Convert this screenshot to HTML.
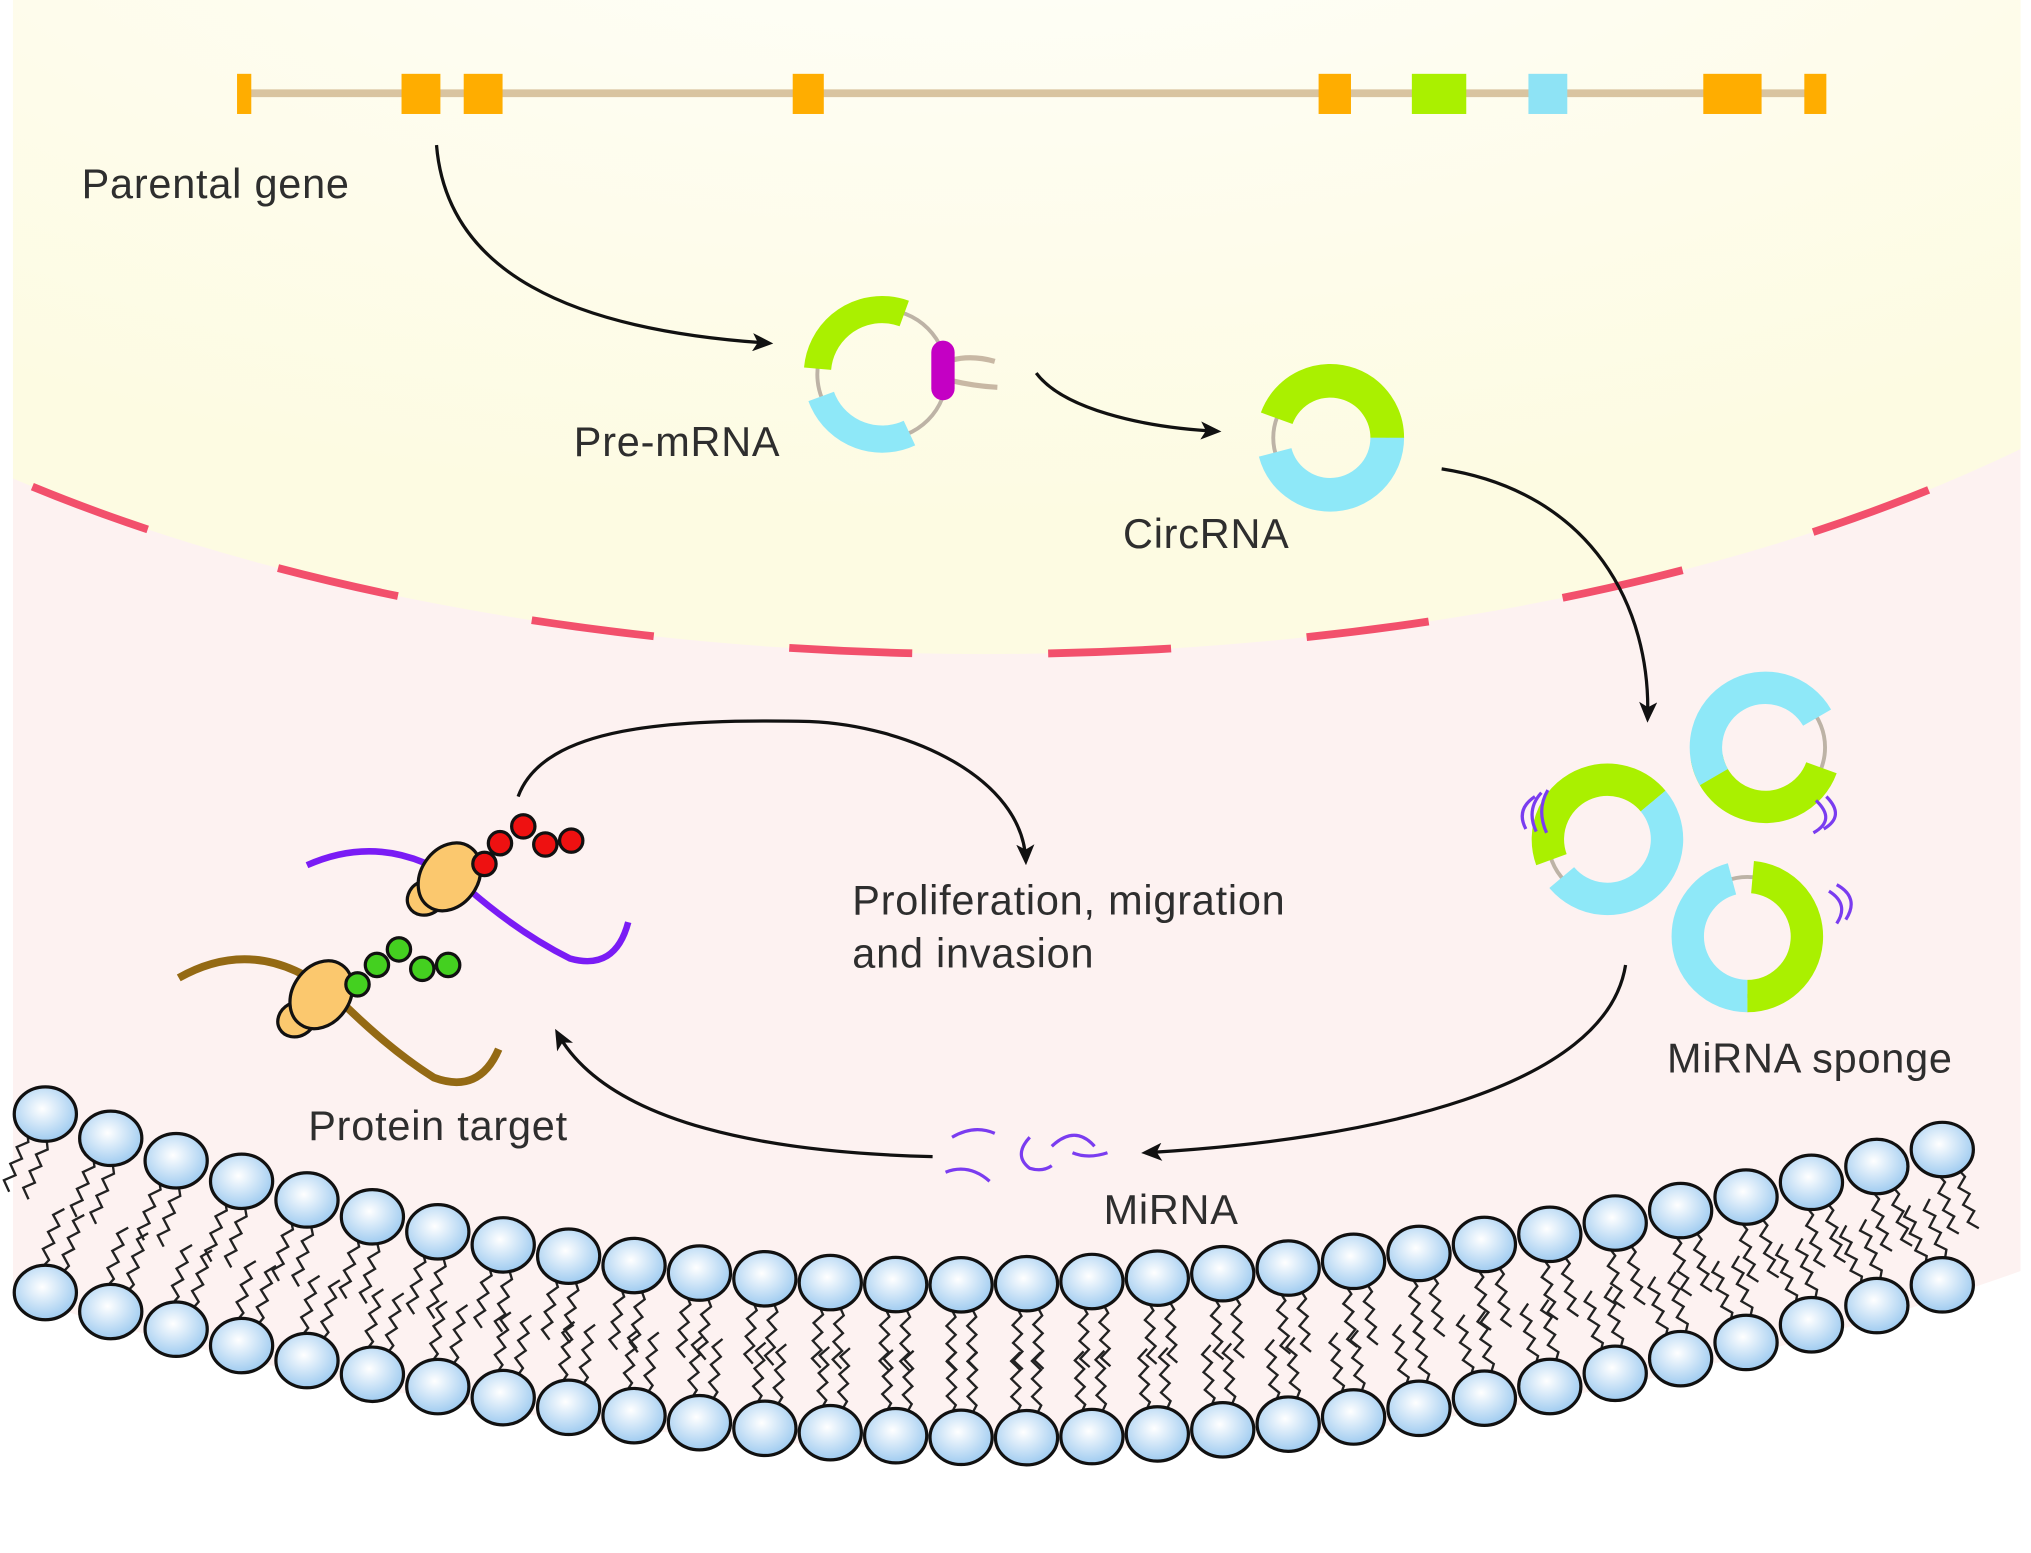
<!DOCTYPE html>
<html><head><meta charset="utf-8"><style>
html,body{margin:0;padding:0;background:#fff}
svg{display:block}
text{font-family:"Liberation Sans",sans-serif;fill:#2e2e2e;font-size:32px;letter-spacing:0.6px}
</style></head><body>
<svg id="s" width="2031" height="1553" viewBox="0 0 1568 1199" preserveAspectRatio="none" xmlns="http://www.w3.org/2000/svg">
<defs>
<radialGradient id="hg" cx="0.45" cy="0.4" r="0.6"><stop offset="0" stop-color="#ffffff"/><stop offset="1" stop-color="#9fcbf0"/></radialGradient>
<radialGradient id="nuc" cx="0.5" cy="0.3" r="0.6"><stop offset="0" stop-color="#ffffff"/><stop offset="0.5" stop-color="#fefdf0"/><stop offset="1" stop-color="#fdfbe2"/></radialGradient>
<marker id="ah" markerWidth="16" markerHeight="14" refX="13" refY="7" orient="auto" markerUnits="userSpaceOnUse"><path d="M0,0 L16,7 L0,14 L4,7 Z" fill="#111"/></marker>
</defs>
<rect x="0" y="0" width="1568" height="1199" fill="#fff"/>
<rect x="10" y="8" width="1550" height="1180" fill="#fdf2f1"/>
<path id="below" fill="#ffffff"/>
<ellipse cx="760" cy="0" rx="1100" ry="505" fill="url(#nuc)"/>
<ellipse cx="760" cy="0" rx="1100" ry="505" fill="none" stroke="#f2506c" stroke-width="6" stroke-dasharray="95 105" stroke-dashoffset="40"/>
<rect x="0" y="0" width="10" height="1199" fill="#fff"/>
<rect x="1560" y="0" width="8" height="1199" fill="#fff"/>

<line x1="188" y1="72" x2="1405" y2="72" stroke="#d9c4a0" stroke-width="6"/>
<g fill="#ffad00">
<rect x="183" y="57" width="11" height="31"/><rect x="310" y="57" width="30" height="31"/><rect x="358" y="57" width="30" height="31"/>
<rect x="612" y="57" width="24" height="31"/><rect x="1018" y="57" width="25" height="31"/>
<rect x="1315" y="57" width="45" height="31"/><rect x="1393" y="57" width="17" height="31"/></g>
<rect x="1090" y="57" width="42" height="31" fill="#aaf000"/>
<rect x="1180" y="57" width="30" height="31" fill="#8ee3f5"/>
<text x="63" y="153">Parental gene</text>

<g fill="none" stroke="#111" stroke-width="2.5" marker-end="url(#ah)">
<path d="M337,112 C345,210 440,255 594,265"/>
<path d="M800,288 C820,315 880,330 940,333"/>
<path d="M1113,362 C1230,380 1275,470 1272,555"/>
<path d="M1255,745 C1240,840 1060,880 884,890"/>
<path d="M720,893 C600,890 470,870 430,797"/>
<path d="M400,615 C420,560 520,555 625,557 C700,560 790,600 792,665"/>
</g>

<g id="rings"></g>
<g stroke="#c8b8a4" stroke-width="4" fill="none"><path d="M735,278 Q750,274 768,279"/><path d="M735,294 Q752,298 770,299"/></g>
<rect x="719" y="263" width="18" height="46" rx="9" fill="#c400c4"/>
<text x="443" y="352">Pre-mRNA</text>
<text x="867" y="423">CircRNA</text>
<text x="1287" y="828">MiRNA sponge</text>
<text x="852" y="945">MiRNA</text>
<text x="238" y="880">Protein target</text>
<text x="658" y="706">Proliferation, migration</text>
<text x="658" y="747">and invasion</text>

<g fill="none" stroke="#7a3cf0" stroke-width="2.5">
<path d="M735,878 Q752,868 768,875"/><path d="M730,905 Q748,898 764,912"/>
<path d="M795,878 Q782,892 795,902 Q805,905 812,900"/><path d="M812,885 Q830,868 845,885 M828,890 Q840,895 855,890"/>
<path d="M1185,615 Q1170,625 1178,640 M1190,612 Q1178,625 1186,642 M1195,610 Q1186,625 1194,643"/>
<path d="M1410,615 Q1425,630 1408,640 M1402,618 Q1418,633 1400,643"/>
<path d="M1418,683 Q1436,693 1425,710 M1412,688 Q1428,698 1418,713"/>
</g>

<path d="M237,668 Q300,640 360,685 Q400,720 440,740 Q475,750 485,712" fill="none" stroke="#7a1cf5" stroke-width="5"/>
<path d="M138,755 Q200,720 260,770 Q300,810 335,832 Q370,845 385,810" fill="none" stroke="#946a14" stroke-width="6"/>
<g stroke="#111" stroke-width="2.5" fill="#fbc86e">
<ellipse cx="329" cy="693" rx="15" ry="13" transform="rotate(-30 329 693)"/>
<ellipse cx="347" cy="677" rx="28" ry="22" transform="rotate(-55 347 677)"/>
<ellipse cx="229" cy="787" rx="15" ry="13" transform="rotate(-30 229 787)"/>
<ellipse cx="248" cy="768" rx="28" ry="22" transform="rotate(-55 248 768)"/>
</g>
<g stroke="#111" stroke-width="2.5" fill="#ee1111">
<circle cx="374" cy="667" r="9"/><circle cx="386" cy="651" r="9"/><circle cx="404" cy="638" r="9"/><circle cx="421" cy="652" r="9"/><circle cx="441" cy="649" r="9"/></g>
<g stroke="#111" stroke-width="2.5" fill="#44d020">
<circle cx="276" cy="760" r="9"/><circle cx="291" cy="745" r="9"/><circle cx="308" cy="733" r="9"/><circle cx="326" cy="748" r="9"/><circle cx="346" cy="745" r="9"/></g>

<g id="mem"></g>
</svg>
<script>
(function(){
var NS="http://www.w3.org/2000/svg";
function el(t,a,p){var e=document.createElementNS(NS,t);for(var k in a)e.setAttribute(k,a[k]);(p||document.getElementById('s')).appendChild(e);return e;}
var R=document.getElementById('rings');
function arc(cx,cy,r,a0,a1,col,w){var C=2*Math.PI*r;var d=(a1-a0)/360*C;el('circle',{cx:cx,cy:cy,r:r,fill:'none',stroke:col,'stroke-width':w,'stroke-dasharray':d+' '+C,transform:'rotate('+a0+' '+cx+' '+cy+')'},R);}
function ring(cx,cy,r,w,g,c){el('circle',{cx:cx,cy:cy,r:r,fill:'none',stroke:'#bdb3a6','stroke-width':3},R);arc(cx,cy,r,g[0],g[1],'#aaf000',w);arc(cx,cy,r,c[0],c[1],'#8ee8f8',w);}
ring(681,289,50,21,[185,290],[65,160]);
ring(1027,338,44,26,[200,360],[0,165]);
ring(1241,648,46,25,[160,320],[320,500]);
ring(1363,577,46,25,[20,170],[150,330]);
ring(1349,723,46,25,[275,450],[90,255]);
var M=document.getElementById('mem');
function topY(x){return x<720?992-0.000281*(x-720)*(x-720):992-0.000172*(x-720)*(x-720);}
function botY(x){return x<780?1110-0.000202*(x-780)*(x-780):1110-0.000228*(x-780)*(x-780);}
function sl(f,x){return (f(x+1)-f(x-1))/2;}
var d='M10,1199 L10,'+(botY(10)+10);
for(var x=10;x<=1560;x+=10)d+=' L'+x+','+(botY(x)+10);
d+=' L1560,1199 Z';document.getElementById('below').setAttribute('d',d);
function tail(x,y,nx,ny,dir,len){var s='M'+x+','+y;var tx=ny,ty=-nx;for(var i=1;i<=7;i++){var t=i*len/7;var w=(i%2?3.5:-3.5);s+=' L'+(x+dir*nx*t+tx*w)+','+(y+dir*ny*t+ty*w);}el('path',{d:s,fill:'none',stroke:'#222','stroke-width':1.8},M);}
function leaf(f,x0,x1,dir){var pts=[];for(var x=x0;x<=x1;x+=50.5){var y=f(x),s=sl(f,x),n=Math.sqrt(1+s*s);var nx=-s/n,ny=1/n;pts.push([x,y,nx,ny]);}
pts.forEach(function(p){var tx=p[3],ty=-p[2];for(var k=-1;k<=1;k+=2){tail(p[0]+tx*8*k+dir*p[2]*18,p[1]+ty*8*k+dir*p[3]*18,p[2],p[3],dir,48);}});
return pts;}
var a=leaf(topY,35,1530,1),b=leaf(botY,35,1540,-1);
a.concat(b).forEach(function(p){el('ellipse',{cx:p[0],cy:p[1],rx:24,ry:21,fill:'url(#hg)',stroke:'#111','stroke-width':2.5},M);});
})();
</script>
</body></html>
